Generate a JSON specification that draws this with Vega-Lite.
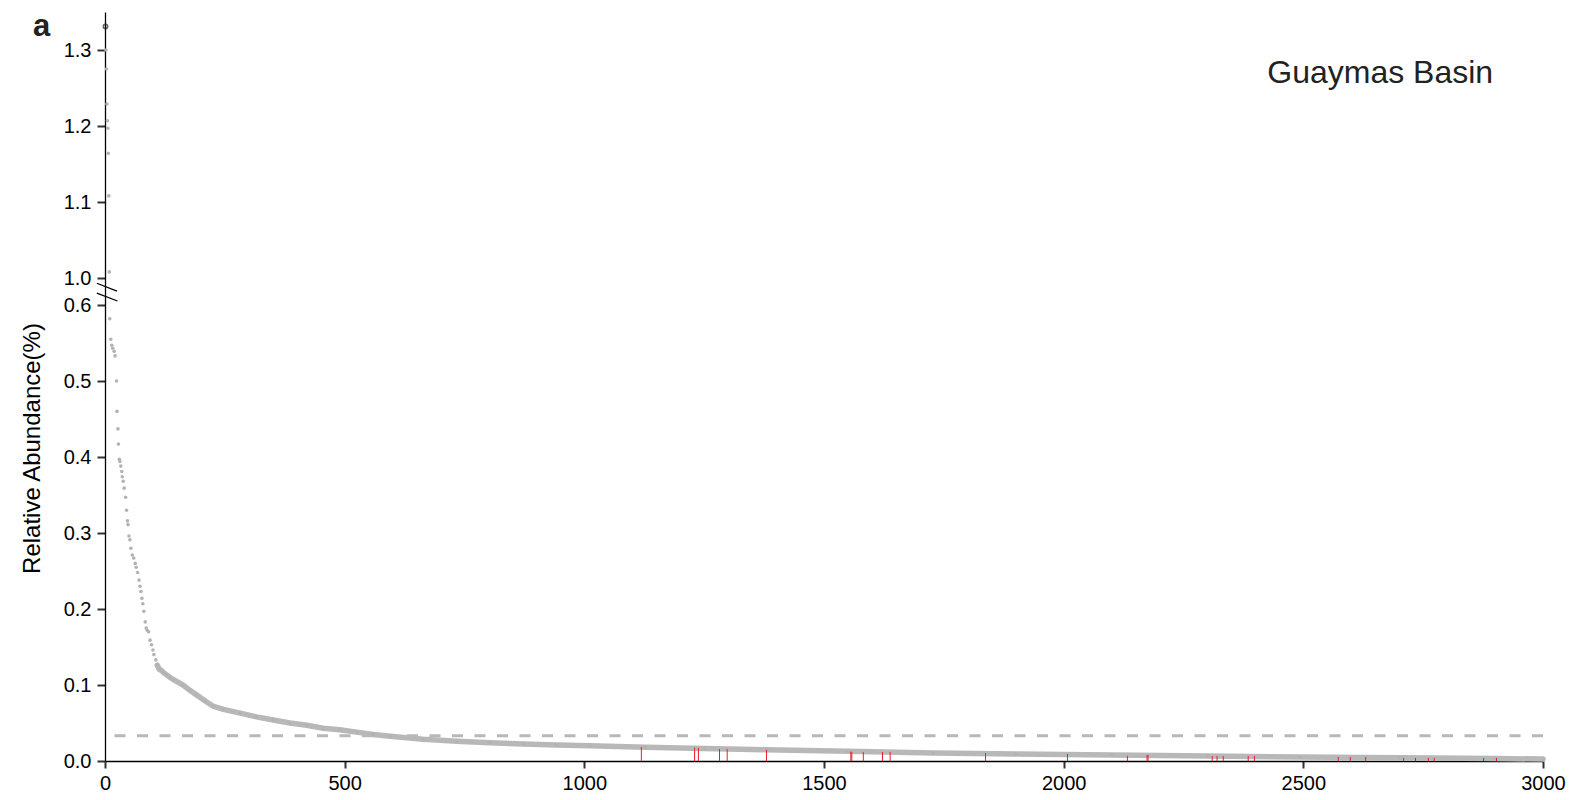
{
  "$schema": "https://vega.github.io/schema/vega-lite/v6.json",
  "width": 1438,
  "height": 749,
  "autosize": {"type": "none"},
  "padding": {"left": 105, "top": 12, "right": 33, "bottom": 39},
  "background": "white",
  "config": {"view": {"stroke": null}, "font": "Liberation Sans"},
  "datasets": {
    "curve": [
      {"rank": 1, "abundance": 1.331},
      {"rank": 2, "abundance": 1.300},
      {"rank": 3, "abundance": 1.275},
      {"rank": 4, "abundance": 1.229},
      {"rank": 5, "abundance": 1.207},
      {"rank": 6, "abundance": 1.197},
      {"rank": 7, "abundance": 1.164},
      {"rank": 8, "abundance": 1.108},
      {"rank": 9, "abundance": 1.008},
      {"rank": 10, "abundance": 0.582},
      {"rank": 12, "abundance": 0.555},
      {"rank": 14, "abundance": 0.547},
      {"rank": 16, "abundance": 0.543},
      {"rank": 19, "abundance": 0.539},
      {"rank": 21, "abundance": 0.533},
      {"rank": 24, "abundance": 0.500},
      {"rank": 25, "abundance": 0.460},
      {"rank": 27, "abundance": 0.437},
      {"rank": 28, "abundance": 0.417},
      {"rank": 30, "abundance": 0.397},
      {"rank": 31, "abundance": 0.394},
      {"rank": 33, "abundance": 0.388},
      {"rank": 35, "abundance": 0.381},
      {"rank": 36, "abundance": 0.374},
      {"rank": 38, "abundance": 0.368},
      {"rank": 40, "abundance": 0.359},
      {"rank": 43, "abundance": 0.347},
      {"rank": 45, "abundance": 0.330},
      {"rank": 47, "abundance": 0.316},
      {"rank": 48, "abundance": 0.311},
      {"rank": 50, "abundance": 0.296},
      {"rank": 52, "abundance": 0.291},
      {"rank": 54, "abundance": 0.280},
      {"rank": 57, "abundance": 0.271},
      {"rank": 60, "abundance": 0.267},
      {"rank": 63, "abundance": 0.260},
      {"rank": 65, "abundance": 0.255},
      {"rank": 68, "abundance": 0.248},
      {"rank": 71, "abundance": 0.238},
      {"rank": 73, "abundance": 0.230},
      {"rank": 75, "abundance": 0.223},
      {"rank": 77, "abundance": 0.214},
      {"rank": 79, "abundance": 0.207},
      {"rank": 81, "abundance": 0.197},
      {"rank": 84, "abundance": 0.183},
      {"rank": 86, "abundance": 0.175},
      {"rank": 88, "abundance": 0.172},
      {"rank": 91, "abundance": 0.170},
      {"rank": 94, "abundance": 0.159},
      {"rank": 97, "abundance": 0.153},
      {"rank": 100, "abundance": 0.146},
      {"rank": 102, "abundance": 0.140},
      {"rank": 106, "abundance": 0.133},
      {"rank": 109, "abundance": 0.126},
      {"rank": 113, "abundance": 0.121},
      {"rank": 118, "abundance": 0.119},
      {"rank": 123, "abundance": 0.116},
      {"rank": 129, "abundance": 0.113},
      {"rank": 136, "abundance": 0.110},
      {"rank": 143, "abundance": 0.107},
      {"rank": 163, "abundance": 0.100},
      {"rank": 177, "abundance": 0.093},
      {"rank": 191, "abundance": 0.087},
      {"rank": 209, "abundance": 0.079},
      {"rank": 226, "abundance": 0.072},
      {"rank": 247, "abundance": 0.068},
      {"rank": 282, "abundance": 0.063},
      {"rank": 316, "abundance": 0.058},
      {"rank": 351, "abundance": 0.054},
      {"rank": 386, "abundance": 0.050},
      {"rank": 421, "abundance": 0.047},
      {"rank": 455, "abundance": 0.043},
      {"rank": 490, "abundance": 0.041},
      {"rank": 525, "abundance": 0.038},
      {"rank": 560, "abundance": 0.035},
      {"rank": 595, "abundance": 0.0325},
      {"rank": 664, "abundance": 0.0285},
      {"rank": 734, "abundance": 0.026},
      {"rank": 803, "abundance": 0.024},
      {"rank": 873, "abundance": 0.0224},
      {"rank": 942, "abundance": 0.021},
      {"rank": 1012, "abundance": 0.0202},
      {"rank": 1127, "abundance": 0.018},
      {"rank": 1250, "abundance": 0.0165},
      {"rank": 1380, "abundance": 0.0149},
      {"rank": 1550, "abundance": 0.0127},
      {"rank": 1728, "abundance": 0.0105},
      {"rank": 1900, "abundance": 0.0092},
      {"rank": 2100, "abundance": 0.0079},
      {"rank": 2300, "abundance": 0.0066},
      {"rank": 2493, "abundance": 0.0053},
      {"rank": 2700, "abundance": 0.0042},
      {"rank": 2900, "abundance": 0.0033},
      {"rank": 3000, "abundance": 0.0025}
    ],
    "highlight": [
      {"rank": 1119, "abundance": 0.0184},
      {"rank": 1230, "abundance": 0.0175},
      {"rank": 1238, "abundance": 0.0172},
      {"rank": 1282, "abundance": 0.0158},
      {"rank": 1298, "abundance": 0.0158},
      {"rank": 1380, "abundance": 0.0145},
      {"rank": 1556, "abundance": 0.0122},
      {"rank": 1558, "abundance": 0.0122},
      {"rank": 1582, "abundance": 0.0118},
      {"rank": 1622, "abundance": 0.0118},
      {"rank": 1638, "abundance": 0.0118},
      {"rank": 1837, "abundance": 0.0105},
      {"rank": 2008, "abundance": 0.0092},
      {"rank": 2133, "abundance": 0.0068},
      {"rank": 2174, "abundance": 0.0079},
      {"rank": 2176, "abundance": 0.0079},
      {"rank": 2310, "abundance": 0.0066},
      {"rank": 2320, "abundance": 0.0066},
      {"rank": 2333, "abundance": 0.0066},
      {"rank": 2385, "abundance": 0.0066},
      {"rank": 2398, "abundance": 0.0066},
      {"rank": 2573, "abundance": 0.0053},
      {"rank": 2598, "abundance": 0.0053},
      {"rank": 2630, "abundance": 0.0053},
      {"rank": 2709, "abundance": 0.0040},
      {"rank": 2734, "abundance": 0.0040},
      {"rank": 2761, "abundance": 0.0040},
      {"rank": 2773, "abundance": 0.0040},
      {"rank": 2876, "abundance": 0.0040},
      {"rank": 2903, "abundance": 0.0040}
    ],
    "threshold": [{"abundance": 0.0333}],
    "labels": [
      {"text": "Guaymas Basin", "rank": 2896, "abundance": 1.257}
    ],
    "panel": [
      {"text": "a", "rank": -150, "abundance": 1.318}
    ],
    "breaks": [
      {"xa": -17, "xb": 25, "ya": 0.922, "yb": 0.805},
      {"xa": -17, "xb": 26, "ya": 0.776, "yb": 0.659}
    ]
  },
  "layer": [
    {
      "data": {"name": "threshold"},
      "mark": {"type": "rule", "color": "#b8b8b8", "strokeWidth": 3, "strokeDash": [11, 11.5]},
      "encoding": {
        "y": {
          "field": "abundance",
          "type": "quantitative",
          "scale": {"type": "linear", "domain": [0, 0.6, 1.0, 1.35], "range": [749, 293, 266, 0], "nice": false, "zero": false},
          "axis": {
            "values": [0, 0.1, 0.2, 0.3, 0.4, 0.5, 0.6, 1.0, 1.1, 1.2, 1.3],
            "format": ".1f",
            "title": "Relative Abundance(%)",
            "titleFont": "Liberation Sans",
            "titleFontSize": 24,
            "titleFontWeight": "normal",
            "titleColor": "#000",
            "titleX": -66,
            "titleY": 436,
            "titleAngle": -90,
            "titleAlign": "center",
            "titleBaseline": "alphabetic",
            "grid": false,
            "domainColor": "#000",
            "domainWidth": 1.3,
            "tickColor": "#333",
            "tickWidth": 2,
            "tickSize": 8,
            "labelFont": "Liberation Sans",
            "labelFontSize": 20,
            "labelColor": "#000",
            "labelPadding": 6,
            "labelOverlap": false
          }
        }
      }
    },
    {
      "data": {"name": "curve"},
      "transform": [{"filter": "datum.rank >= 109"}],
      "mark": {"type": "line", "color": "#b8b8b8", "strokeWidth": 5.5, "strokeCap": "round"},
      "encoding": {
        "x": {
          "field": "rank",
          "type": "quantitative",
          "scale": {"domain": [0, 3000], "nice": false, "zero": false},
          "axis": {
            "values": [0, 500, 1000, 1500, 2000, 2500, 3000],
            "format": "d",
            "title": null,
            "grid": false,
            "domainColor": "#000",
            "domainWidth": 1.3,
            "tickColor": "#333",
            "tickWidth": 2,
            "tickSize": 7,
            "labelFont": "Liberation Sans",
            "labelFontSize": 20,
            "labelColor": "#000",
            "labelPadding": 5,
            "labelOverlap": false,
            "labelFlush": false
          }
        },
        "y": {"field": "abundance", "type": "quantitative"}
      }
    },
    {
      "data": {"name": "curve"},
      "transform": [{"filter": "datum.rank > 1"}],
      "mark": {"type": "circle", "color": "#b3b3b3", "size": 13, "opacity": 1},
      "encoding": {
        "x": {"field": "rank", "type": "quantitative"},
        "y": {"field": "abundance", "type": "quantitative"}
      }
    },
    {
      "data": {"name": "highlight"},
      "mark": {"type": "rule", "color": "#ee1c25", "strokeWidth": 1},
      "encoding": {
        "x": {"field": "rank", "type": "quantitative"},
        "y": {"field": "abundance", "type": "quantitative"},
        "y2": {"datum": 0}
      }
    },
    {
      "data": {"name": "curve"},
      "transform": [{"filter": "datum.rank == 1"}],
      "mark": {"type": "point", "shape": "circle", "filled": false, "color": "#222", "size": 18, "strokeWidth": 1.6},
      "encoding": {
        "x": {"field": "rank", "type": "quantitative"},
        "y": {"field": "abundance", "type": "quantitative"}
      }
    },
    {
      "data": {"name": "breaks"},
      "mark": {"type": "rule", "color": "#000", "strokeWidth": 1.3},
      "encoding": {
        "x": {"field": "xa", "type": "quantitative"},
        "x2": {"field": "xb"},
        "y": {"field": "ya", "type": "quantitative"},
        "y2": {"field": "yb"}
      }
    },
    {
      "data": {"name": "labels"},
      "mark": {"type": "text", "align": "right", "baseline": "alphabetic", "font": "Liberation Sans", "fontSize": 32, "color": "#222"},
      "encoding": {
        "x": {"field": "rank", "type": "quantitative"},
        "y": {"field": "abundance", "type": "quantitative"},
        "text": {"field": "text"}
      }
    },
    {
      "data": {"name": "panel"},
      "mark": {"type": "text", "align": "left", "baseline": "alphabetic", "font": "Liberation Sans, Arial, sans-serif", "fontSize": 31, "fontWeight": "bold", "color": "#222"},
      "encoding": {
        "x": {"field": "rank", "type": "quantitative"},
        "y": {"field": "abundance", "type": "quantitative"},
        "text": {"field": "text"}
      }
    }
  ]
}
